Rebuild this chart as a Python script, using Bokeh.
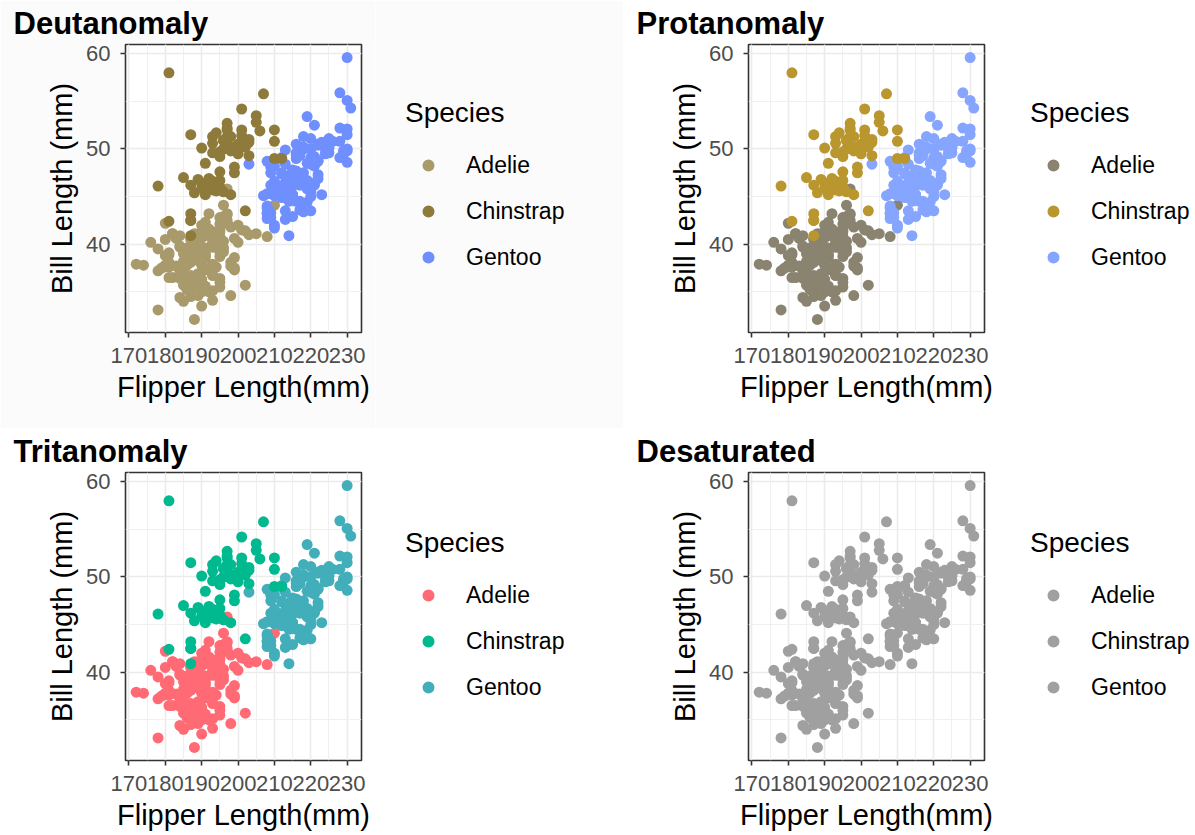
from bokeh.plotting import figure
from bokeh.models import Range1d, SingleIntervalTicker, Legend, LegendItem, ColumnDataSource
from bokeh.layouts import column, row
from bokeh.embed import file_html
from bokeh.resources import INLINE

species = ["Adelie", "Chinstrap", "Gentoo"]

adelie_flipper = [181,186,195,193,190,181,195,193,190,186,180,182,191,198,185,195,197,184,194,
                  174,180,189,185,180,187,183,187,172,180,
                  178,178,188,184,195,196,190,180,181,184,182,195,186,196,185,190,182,179,190,191,
                  186,188,190,200,187,191,186,193,181,194,185,195,185,192,184,192,195,188,
                  190,198,190,190,196,197,190,195,191,184,187,195,189,196,187,193,
                  191,194,190,189,189,190,202,205,185,186,187,208,190,196,178,192,
                  192,203,183,190,193,184,199,190,181,197,198,191,193,197,191,196,
                  188,199,189,189,187,198,176,202,186,199,191,195,191,210,190,197,
                  193,199,187,190,191,200,185,193,193,187,188,190,192,185,190,184,195,193,187,201]
adelie_bill = [39.1,39.5,40.3,36.7,39.3,38.9,39.2,34.1,42.0,37.8,37.8,41.1,38.6,34.6,36.6,38.7,42.5,34.4,46.0,
               37.8,37.7,35.9,38.2,38.8,35.3,40.6,40.5,37.9,40.5,
               39.5,37.2,39.5,40.9,36.4,39.2,38.8,42.2,37.6,39.8,36.5,40.8,36.0,44.1,37.0,39.6,41.1,37.5,36.0,42.3,
               39.6,40.1,35.0,42.0,34.5,41.4,39.0,40.6,36.5,37.6,35.7,41.3,37.6,41.1,36.4,41.6,35.5,41.1,
               35.9,41.8,33.5,39.7,39.6,45.8,35.5,42.8,40.9,37.2,36.2,42.1,34.6,42.9,36.7,35.1,
               37.3,41.3,36.3,36.9,38.3,38.9,35.7,41.1,34.0,39.6,36.2,40.8,38.1,40.3,33.1,43.2,
               35.0,41.0,37.7,37.8,37.9,39.7,38.6,38.2,38.1,43.2,38.1,45.6,39.7,42.2,39.6,42.7,
               38.6,37.3,35.7,41.1,36.2,37.7,40.2,41.4,35.2,40.6,38.8,41.5,39.0,44.1,38.5,43.1,
               36.8,37.5,38.1,41.1,35.6,40.2,37.0,39.7,40.2,40.6,32.1,40.7,37.3,39.0,39.2,36.6,36.0,37.8,36.0,41.5]

gentoo_flipper = [211,230,210,218,215,210,211,219,209,215,214,216,214,213,210,217,210,221,209,222,
                  218,215,213,215,215,215,216,215,210,220,222,209,207,230,220,220,213,219,208,208,
                  208,225,210,216,222,217,210,225,213,215,210,220,210,225,217,220,208,220,208,224,
                  208,221,214,231,219,230,214,229,220,223,216,221,221,217,216,230,209,220,215,223,
                  212,221,212,224,212,228,218,218,212,230,218,228,212,224,214,226,216,222,203,225,
                  219,228,215,228,216,215,210,219,208,209,216,229,213,230,217,230,217,222,214,
                  215,222,212,213]
gentoo_bill = [46.1,50.0,48.7,50.0,47.6,46.5,45.4,46.7,43.3,46.8,40.9,49.0,45.5,48.4,45.8,49.3,42.0,49.2,46.2,48.7,
               50.2,45.1,46.5,46.3,42.9,46.1,44.5,47.8,48.2,50.0,47.3,42.8,45.1,59.6,49.1,48.4,42.6,44.4,44.0,48.7,
               42.7,49.6,45.3,49.6,50.5,43.6,45.5,50.5,44.9,45.2,46.6,48.5,45.1,50.1,46.5,45.0,43.8,45.5,43.2,50.4,
               45.3,46.2,45.7,54.3,45.8,49.8,46.2,49.5,43.5,50.7,47.7,46.4,48.2,46.5,46.4,48.6,47.5,51.1,45.2,45.2,
               49.1,52.5,47.4,50.0,44.9,50.8,43.4,51.3,47.5,52.1,47.5,52.2,45.5,49.5,44.5,50.8,49.4,46.9,48.4,51.1,
               48.5,55.9,47.2,49.1,47.3,46.8,41.7,53.4,43.3,48.1,50.5,49.8,43.5,51.5,46.2,55.1,44.5,48.8,47.2,
               46.8,50.4,45.2,49.9]

chinstrap_flipper = [192,196,193,188,197,198,178,197,195,198,193,194,185,201,190,201,197,181,190,195,
                     181,191,187,193,195,197,200,200,191,205,187,201,187,203,195,199,195,210,192,205,
                     210,187,196,196,196,201,190,212,187,198,199,201,193,203,187,197,191,203,202,194,
                     206,189,195,207,202,193,210,198]
chinstrap_bill = [46.5,50.0,51.3,45.4,52.7,45.2,46.1,51.3,46.0,51.3,46.6,51.7,47.0,52.0,45.9,50.5,50.3,58.0,46.4,49.2,
                  42.4,48.5,43.2,50.6,46.7,52.0,50.5,49.5,46.4,52.8,40.9,54.2,42.5,51.0,49.7,47.5,47.6,52.0,46.9,53.5,
                  49.0,46.2,50.9,45.5,50.9,50.8,50.1,49.0,51.5,49.8,48.1,51.4,45.7,50.7,42.5,52.2,45.2,49.3,50.2,45.6,
                  51.9,46.8,45.7,55.8,43.5,49.6,50.8,50.2]

panel_titles = ["Deutanomaly", "Protanomaly", "Tritanomaly", "Desaturated"]
# colours per panel: Adelie, Chinstrap, Gentoo
deutan_colors = ["#A89A6B", "#8E7B3B", "#6F8FFF"]
protan_colors = ["#8A8370", "#B9962E", "#85A5FF"]
tritan_colors = ["#FF6A74", "#00B98F", "#42AEBA"]
desat_colors = ["#A0A0A0", "#A0A0A0", "#A0A0A0"]

x_limits = (169.05, 233.95)
y_limits = (30.725, 60.975)

FONT = "Liberation Sans"


def sources():
    return {
        "Adelie": ColumnDataSource(dict(x=adelie_flipper, y=adelie_bill)),
        "Chinstrap": ColumnDataSource(dict(x=chinstrap_flipper, y=chinstrap_bill)),
        "Gentoo": ColumnDataSource(dict(x=gentoo_flipper, y=gentoo_bill)),
    }


def make_plot(title, colors, height, bottom, bg):
    p = figure(width=375, height=height,
               x_range=Range1d(*x_limits), y_range=Range1d(*y_limits),
               output_backend="svg", toolbar_location=None,
               min_border_left=125, min_border_right=14,
               min_border_top=43, min_border_bottom=bottom,
               background_fill_color="white", border_fill_color=bg,
               outline_line_color="#333333", outline_line_width=1.6,
               title=title)
    p.title.text_font = FONT
    p.title.text_font_size = "31px"
    p.title.text_font_style = "bold"
    p.title.text_color = "black"
    p.title.align = "left"
    p.title.offset = -112
    p.title.standoff = 7

    for ax in (p.xaxis[0], p.yaxis[0]):
        ax.ticker = SingleIntervalTicker(interval=10, num_minor_ticks=2)
        ax.axis_line_color = None
        ax.major_tick_line_color = "#333333"
        ax.major_tick_line_width = 1.6
        ax.major_tick_out = 5
        ax.major_tick_in = 0
        ax.minor_tick_line_color = None
        ax.major_label_text_font = FONT
        ax.major_label_text_font_size = "22px"
        ax.major_label_text_color = "#4D4D4D"
        ax.axis_label_text_font = FONT
        ax.axis_label_text_font_size = "29px"
        ax.axis_label_text_font_style = "normal"
        ax.axis_label_text_color = "black"
    p.xaxis.axis_label = "Flipper Length(mm)"
    p.yaxis.axis_label = "Bill Length (mm)"
    p.xaxis.major_label_standoff = 10
    p.xaxis.axis_label_standoff = 5
    p.yaxis.major_label_standoff = 10
    p.yaxis.axis_label_standoff = 5

    for g in (p.xgrid[0], p.ygrid[0]):
        g.grid_line_color = "#EBEBEB"
        g.grid_line_width = 1.6
        g.minor_grid_line_color = "#EEEEEE"
        g.minor_grid_line_width = 0.9

    src = sources()
    # drawing order follows the data rows: Adelie, Gentoo, Chinstrap
    for name in ["Adelie", "Gentoo", "Chinstrap"]:
        c = colors[species.index(name)]
        p.scatter("x", "y", source=src[name], size=11, color=c, line_color=None)
    return p


def make_legend(colors, width, height, lx, ly, bg):
    q = figure(width=width, height=height,
               x_range=Range1d(*x_limits), y_range=Range1d(*y_limits),
               output_backend="svg", toolbar_location=None,
               x_axis_type=None, y_axis_type=None,
               min_border=0, min_border_left=0, min_border_right=0,
               min_border_top=0, min_border_bottom=0,
               background_fill_color=bg, border_fill_color=bg,
               outline_line_color=None)
    q.grid.visible = False
    src = sources()
    rs = []
    for name, c in zip(species, colors):
        r = q.scatter("x", "y", source=src[name], size=11, color=c, line_color=None)
        r.visible = False
        rs.append(r)
    legend = Legend(items=[LegendItem(label=s, renderers=[r]) for s, r in zip(species, rs)],
                    location=(lx, ly),
                    title="Species",
                    title_text_font=FONT, title_text_font_size="28px", title_text_color="black",
                    title_text_font_style="normal",
                    title_standoff=21,
                    label_text_font=FONT, label_text_font_size="23px", label_text_color="black",
                    glyph_width=46, glyph_height=30, label_height=20,
                    label_standoff=15, spacing=16, padding=0, margin=0,
                    border_line_color=None, background_fill_alpha=0,
                    inactive_fill_alpha=0)
    q.add_layout(legend)
    return q


H1, H2 = 428, 405
p1 = make_plot(panel_titles[0], deutan_colors, H1, 96, "#FBFBFB")
l1 = make_legend(deutan_colors, 248, H1, 30, 60, "#FBFBFB")
p2 = make_plot(panel_titles[1], protan_colors, H1, 96, "white")
l2 = make_legend(protan_colors, 197, H1, 32, 60, "white")
p3 = make_plot(panel_titles[2], tritan_colors, H2, 73, "white")
l3 = make_legend(tritan_colors, 248, H2, 30, 58, "white")
p4 = make_plot(panel_titles[3], desat_colors, H2, 73, "white")
l4 = make_legend(desat_colors, 197, H2, 32, 58, "white")

layout = column(row(p1, l1, p2, l2), row(p3, l3, p4, l4))
open("out.html", "w").write(file_html(layout, INLINE))
